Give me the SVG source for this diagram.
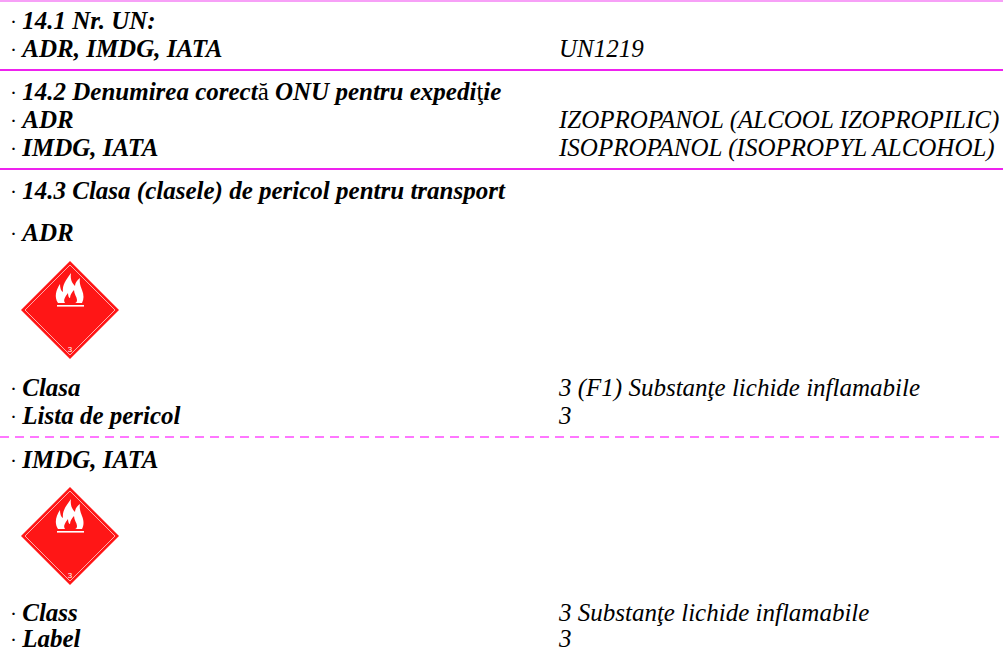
<svg xmlns="http://www.w3.org/2000/svg" width="1003" height="652" viewBox="0 0 1003 652">
<style>
.l{font-family:"Liberation Serif","Times New Roman",serif;font-size:25px;font-weight:bold;font-style:italic;fill:#000}
.d{font-weight:normal;font-style:normal}
.b{font-weight:normal;font-style:normal;font-size:21px}
.v{font-family:"Liberation Serif","Times New Roman",serif;font-size:25px;font-style:italic;fill:#000}
.sep{stroke:#ee22ee;stroke-width:2}
.dash{stroke:#ff77ff;stroke-width:2;stroke-dasharray:9 6}
</style>
<defs>
<g id="flam">
<polygon points="70,261 119,310 70,359 21,310" fill="#ff1616"/>
<polygon points="70,265 115,310 70,355 25,310" fill="none" stroke="#ffd0d0" stroke-width="0.8"/>
<path d="M58,303 C54,297 56,290 60,284 C60,288 61,291 63,292 C62,285 66,280 71,273 C70,279 72,283 75,286 C75,283 77,280 80,278 C79,283 81,287 82,290 C84,295 84,299 82,303 Z" fill="#fff"/>
<path d="M65,303 C63,300 65,297 68,293 C68,296 69,298 70,298 C70,295 72,292 74,290 C74,294 77,297 77,300 C77,302 76,303 75,303 Z" fill="#ff1616"/>
<rect x="57" y="305" width="27" height="1.6" fill="#fff"/>
<text x="70" y="352" font-family="Liberation Sans, Arial, sans-serif" font-size="8" fill="#fff" text-anchor="middle">3</text>
</g>
</defs>
<rect width="1003" height="652" fill="#fff"/>
<g id="lines">
<line x1="0" y1="1" x2="1003" y2="1" stroke="#f7a0f7" stroke-width="2"/>
<line class="sep" x1="0" y1="70" x2="1003" y2="70"/>
<line class="sep" x1="0" y1="169" x2="1003" y2="169"/>
<line class="dash" x1="0" y1="437" x2="1003" y2="437"/>
</g>
<g id="s141">
<text class="l" x="10" y="29"><tspan class="b">· </tspan>14.1 Nr. UN:</text>
<text class="l" x="10" y="57"><tspan class="b">· </tspan>ADR, IMDG, IATA</text>
<text class="v" x="559" y="57">UN1219</text>
</g>
<g id="s142">
<text class="l" x="10" y="100"><tspan class="b">· </tspan>14.2 Denumirea corect<tspan class="d">ă</tspan> ONU pentru expedi<tspan class="d">ţ</tspan>ie</text>
<text class="l" x="10" y="128"><tspan class="b">· </tspan>ADR</text>
<text class="v" x="559" y="128">IZOPROPANOL (ALCOOL IZOPROPILIC)</text>
<text class="l" x="10" y="156"><tspan class="b">· </tspan>IMDG, IATA</text>
<text class="v" x="559" y="156">ISOPROPANOL (ISOPROPYL ALCOHOL)</text>
</g>
<g id="s143">
<text class="l" x="10" y="199"><tspan class="b">· </tspan>14.3 Clasa (clasele) de pericol pentru transport</text>
<text class="l" x="10" y="241"><tspan class="b">· </tspan>ADR</text>
<use href="#flam"/>
<text class="l" x="10" y="396"><tspan class="b">· </tspan>Clasa</text>
<text class="v" x="559" y="396">3 (F1) Substanţe lichide inflamabile</text>
<text class="l" x="10" y="424"><tspan class="b">· </tspan>Lista de pericol</text>
<text class="v" x="559" y="424">3</text>
</g>
<g id="imdg">
<text class="l" x="10" y="468"><tspan class="b">· </tspan>IMDG, IATA</text>
<use href="#flam" transform="translate(0,226)"/>
<text class="l" x="10" y="621"><tspan class="b">· </tspan>Class</text>
<text class="v" x="559" y="621">3 Substanţe lichide inflamabile</text>
<text class="l" x="10" y="647"><tspan class="b">· </tspan>Label</text>
<text class="v" x="559" y="647">3</text>
</g>
</svg>
